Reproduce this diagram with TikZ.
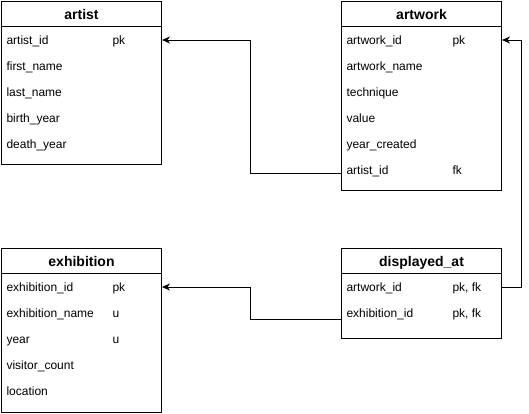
\documentclass[tikz,border=0pt]{standalone}
\usepackage{fontspec}
\setmainfont{Liberation Sans}
\usetikzlibrary{arrows.meta}
\begin{document}
\begin{tikzpicture}[x=1pt,y=-1pt,line width=1pt,
  tbl/.style={draw=black,fill=white,anchor=north west,minimum width=160pt,inner sep=0pt},
  hdr/.style={draw=black,anchor=north west,minimum width=160pt,minimum height=25pt,inner sep=0pt,
    font=\fontsize{14}{16}\selectfont\bfseries,text height=10pt,text depth=0pt},
  rowcell/.style={anchor=west,minimum width=160pt,minimum height=26pt,text width=150pt,
    inner xsep=5pt,inner ysep=0pt,align=left,font=\fontsize{12}{14}\selectfont,text height=8pt,text depth=0pt},
  keycell/.style={anchor=west,inner sep=0pt,font=\fontsize{12}{14}\selectfont,text height=8pt,text depth=0pt},
  conn/.style={draw=black,line width=1pt,-{Stealth[length=8pt,width=7pt,inset=2.5pt]}}]
\useasboundingbox (0,0) rectangle (529,413);

% artist
\node[tbl,minimum height=163pt] (artist) at (1,1) {};
\node[hdr] (artist-h) at (artist.north west) {artist};
\node[rowcell] (ar-1) at (1,40) {artist\_id};
\node[rowcell] (ar-2) at (1,66) {first\_name};
\node[rowcell] (ar-3) at (1,92) {last\_name};
\node[rowcell] (ar-4) at (1,118) {birth\_year};
\node[rowcell] (ar-5) at (1,144) {death\_year};
\node[keycell] (ar-k1) at (112,40) {pk};

% artwork
\node[tbl,minimum height=189pt] (artwork) at (341,1) {};
\node[hdr] (artwork-h) at (artwork.north west) {artwork};
\node[rowcell] (aw-1) at (341,40) {artwork\_id};
\node[rowcell] (aw-2) at (341,66) {artwork\_name};
\node[rowcell] (aw-3) at (341,92) {technique};
\node[rowcell] (aw-4) at (341,118) {value};
\node[rowcell] (aw-5) at (341,144) {year\_created};
\node[rowcell] (aw-6) at (341,170) {artist\_id};
\node[keycell] (aw-k1) at (452,40) {pk};
\node[keycell] (aw-k6) at (452,170) {fk};

% exhibition
\node[tbl,minimum height=164pt] (exhibition) at (1,248) {};
\node[hdr] (exhibition-h) at (exhibition.north west) {exhibition};
\node[rowcell] (ex-1) at (1,287) {exhibition\_id};
\node[rowcell] (ex-2) at (1,313) {exhibition\_name};
\node[rowcell] (ex-3) at (1,339) {year};
\node[rowcell] (ex-4) at (1,365) {visitor\_count};
\node[rowcell] (ex-5) at (1,391) {location};
\node[keycell] (ex-k1) at (112,287) {pk};
\node[keycell] (ex-k2) at (112,313) {u};
\node[keycell] (ex-k3) at (112,339) {u};

% displayed_at
\node[tbl,minimum height=90pt] (displayed) at (341,248) {};
\node[hdr] (displayed-h) at (displayed.north west) {displayed\_at};
\node[rowcell] (da-1) at (341,287) {artwork\_id};
\node[rowcell] (da-2) at (341,313) {exhibition\_id};
\node[keycell] (da-k1) at (452,287) {pk, fk};
\node[keycell] (da-k2) at (452,313) {pk, fk};

% connectors
\coordinate (j1) at (250,0);
\coordinate (j2) at (521,0);
\coordinate (s1) at ([yshift=-3pt]aw-6.west);
\coordinate (s2) at (da-1.east);
\coordinate (s3) at ([yshift=-6pt]da-2.west);
\draw[conn] (s1) -- (s1 -| j1) -- (j1 |- ar-1.east) -- (ar-1.east);
\draw[conn] (s2) -- (s2 -| j2) -- (j2 |- aw-1.east) -- (aw-1.east);
\draw[conn] (s3) -- (s3 -| j1) -- (j1 |- ex-1.east) -- (ex-1.east);
\end{tikzpicture}
\end{document}
